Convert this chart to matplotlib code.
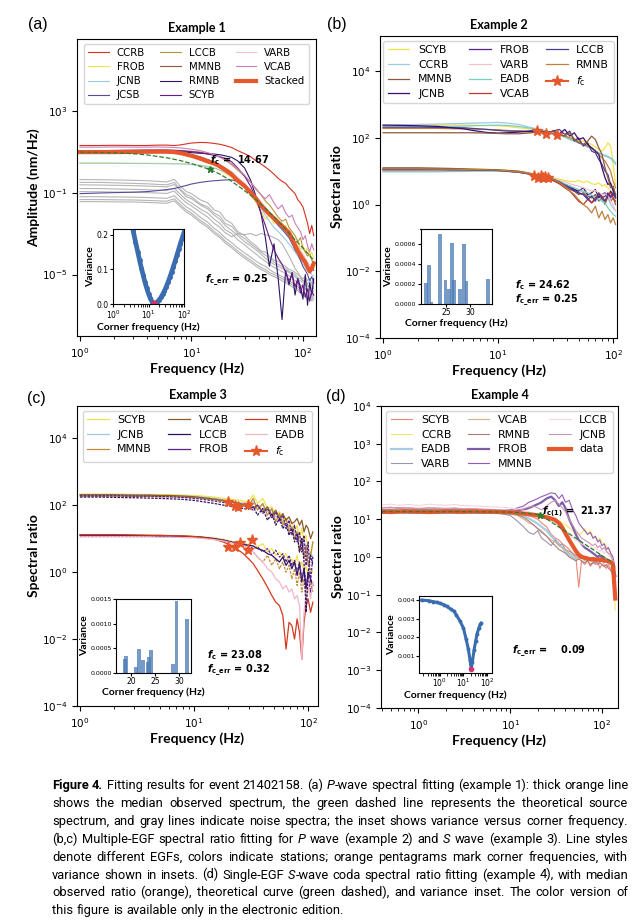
import numpy as np
import matplotlib.pyplot as plt
from matplotlib.ticker import NullLocator, FormatStrFormatter

plt.rcParams['mathtext.fontset'] = 'dejavusans'

W, H = 634, 921
ORANGE = '#e6582b'

# ---------------- (a) P-wave spectra, log10 amplitude ----------------
fa = [1, 1.5, 2, 3, 4, 5, 6, 7, 8, 9, 10, 12, 14, 16, 18, 20, 23, 26, 30, 34,
      38, 42, 46, 50, 55, 60, 65, 70, 75, 80, 85, 90, 95, 100, 105, 110, 115, 120, 125]
a_stacked = [0.98, 0.98, 0.98, 0.99, 1.0, 1.0, 1.0, 0.98, 0.93, 0.86, 0.8, 0.66, 0.52, 0.42, 0.28, 0.12, -0.12, -0.42, -0.68, -1.0,
             -1.3, -1.62, -1.85, -2.05, -2.25, -2.45, -2.62, -2.8, -2.95, -3.25, -3.55, -3.85, -4.05, -4.25, -4.4, -4.65, -4.85, -4.7, -4.45]
a_ccrb = [1.3, 1.3, 1.31, 1.3, 1.3, 1.32, 1.32, 1.3, 1.33, 1.38, 1.42, 1.45, 1.44, 1.4, 1.36, 1.3, 1.2, 1.05, 0.9, 0.75,
          0.55, 0.4, 0.25, 0.1, -0.1, -0.3, -0.45, -0.55, -0.75, -0.9, -1.05, -1.35, -1.5, -1.7, -2.1, -2.5, -3.0, -2.6, -3.1]
a_frob = [0.45, 0.45, 0.45, 0.44, 0.44, 0.43, 0.43, 0.42, 0.41, 0.4, 0.38, 0.34, 0.28, 0.2, 0.1, -0.05, -0.25, -0.45, -0.75, -1.1,
          -1.5, -1.9, -2.3, -2.1, -2.5, -2.4, -2.8, -2.6, -3.0, -3.2, -3.5, -3.3, -3.8, -3.6, -3.9, -3.7, -4.1, -3.9, -4.2]
a_jcnb = [0.43, 0.43, 0.43, 0.42, 0.42, 0.41, 0.41, 0.4, 0.4, 0.39, 0.37, 0.33, 0.27, 0.2, 0.12, 0.0, -0.2, -0.4, -0.7, -1.05,
          -1.4, -1.75, -2.1, -2.4, -2.7, -2.9, -3.1, -3.3, -3.5, -3.7, -3.9, -4.1, -4.3, -4.5, -4.6, -4.8, -4.9, -5.0, -5.1]
a_jcsb = [-1.05, -1.02, -1.0, -0.98, -0.95, -0.9, -0.85, -0.8, -0.72, -0.65, -0.58, -0.5, -0.45, -0.42, -0.4, -0.38, -0.38, -0.45, -0.7, -1.0,
          -1.3, -1.6, -1.85, -2.1, -2.35, -2.6, -2.8, -3.0, -3.2, -3.5, -3.8, -4.0, -4.3, -4.6, -4.8, -5.0, -5.3, -5.1, -5.4]
a_lccb = [1.02, 1.02, 1.03, 1.04, 1.05, 1.06, 1.06, 1.05, 1.05, 1.04, 1.02, 0.98, 0.92, 0.85, 0.75, 0.6, 0.35, 0.1, -0.2, -0.5,
          -0.8, -1.1, -1.4, -1.6, -1.9, -2.2, -2.4, -2.3, -2.7, -2.9, -3.1, -3.4, -3.2, -3.7, -3.9, -4.1, -4.0, -4.3, -4.5]
a_mmnb = [0.95, 0.96, 0.96, 0.97, 0.98, 0.98, 0.98, 0.97, 0.95, 0.9, 0.85, 0.75, 0.62, 0.5, 0.35, 0.2, 0.0, -0.3, -0.6, -0.9,
          -1.2, -1.5, -1.8, -2.0, -2.3, -2.5, -2.7, -2.9, -3.1, -3.3, -3.6, -3.9, -4.1, -4.3, -4.5, -4.7, -4.9, -4.6, -4.8]
a_rmnb = [1.0, 1.0, 1.0, 1.01, 1.02, 1.02, 1.02, 1.01, 1.0, 0.98, 0.95, 0.92, 0.9, 0.88, 0.85, 0.8, 0.72, 0.55, 0.2, -0.4,
          -1.2, -2.0, -3.2, -4.6, -3.5, -5.2, -7.2, -4.8, -5.5, -4.9, -6.0, -5.2, -5.6, -6.2, -5.0, -6.5, -5.4, -6.0, -5.2]
a_scyb = [1.05, 1.05, 1.06, 1.07, 1.08, 1.08, 1.08, 1.07, 1.05, 1.02, 1.0, 0.95, 0.88, 0.82, 0.75, 0.68, 0.5, 0.2, -0.2, -0.7,
          -1.3, -2.0, -2.6, -3.2, -3.8, -4.2, -4.5, -4.9, -5.3, -5.0, -5.6, -5.2, -5.9, -5.5, -6.1, -5.7, -6.3, -5.8, -6.0]
a_varb = [0.9, 0.9, 0.9, 0.91, 0.92, 0.92, 0.92, 0.91, 0.88, 0.85, 0.8, 0.7, 0.58, 0.45, 0.32, 0.18, 0.0, -0.25, -0.55, -0.9,
          -1.2, -1.45, -1.7, -1.95, -2.2, -2.45, -2.65, -2.85, -3.05, -3.3, -3.5, -3.6, -3.8, -4.0, -4.2, -4.4, -4.5, -4.6, -4.7]
a_vcab = [1.22, 1.22, 1.23, 1.22, 1.22, 1.23, 1.22, 1.2, 1.18, 1.15, 1.12, 1.05, 0.95, 0.85, 0.72, 0.6, 0.4, 0.15, -0.15, -0.5,
          -0.85, -1.1, -1.3, -1.1, -1.5, -1.8, -1.6, -2.0, -2.2, -2.1, -2.5, -2.7, -2.9, -3.3, -3.1, -3.6, -3.9, -3.5, -3.8]
a_noise = [
    [-0.36, -0.37, -0.38, -0.4, -0.42, -0.45, -0.48, -0.35, -0.7, -0.95, -1.05, -1.35, -1.5, -1.85, -1.95, -2.3, -2.5, -2.9, -3.1, -3.4,
     -3.6, -3.85, -3.9, -4.1, -4.3, -4.35, -4.5, -4.6, -4.75, -4.8, -4.9, -5.0, -5.1, -5.2, -5.1, -5.3, -5.2, -5.4, -5.3],
    [-0.5, -0.5, -0.52, -0.55, -0.57, -0.6, -0.62, -0.5, -0.85, -1.1, -1.2, -1.55, -1.7, -2.0, -2.15, -2.5, -2.65, -3.0, -3.25, -3.5,
     -3.7, -3.9, -4.05, -4.2, -4.4, -4.5, -4.6, -4.7, -4.85, -4.9, -5.0, -5.15, -5.2, -5.3, -5.25, -5.45, -5.35, -5.5, -5.4],
    [-0.62, -0.63, -0.64, -0.66, -0.68, -0.7, -0.72, -0.6, -0.9, -1.2, -1.3, -1.6, -1.8, -2.1, -2.3, -2.6, -2.85, -3.1, -3.4, -3.6,
     -3.8, -4.0, -4.2, -4.35, -4.5, -4.6, -4.7, -4.8, -4.9, -5.0, -5.1, -5.25, -5.3, -5.4, -5.5, -5.6, -5.5, -5.7, -5.6],
    [-0.8, -0.8, -0.82, -0.84, -0.86, -0.88, -0.9, -0.78, -1.1, -1.35, -1.5, -1.8, -2.0, -2.3, -2.5, -2.8, -3.0, -3.3, -3.55, -3.8,
     -4.0, -4.2, -4.35, -4.5, -4.65, -4.75, -4.85, -4.95, -5.05, -5.15, -5.3, -5.4, -5.5, -5.6, -5.7, -5.8, -5.7, -5.9, -5.8],
    [-0.95, -0.96, -0.97, -0.98, -1.0, -1.02, -1.04, -0.92, -1.25, -1.5, -1.65, -1.95, -2.2, -2.5, -2.7, -2.95, -3.15, -3.0, -3.05, -3.0,
     -3.1, -3.0, -3.05, -3.1, -3.2, -3.3, -3.5, -3.8, -4.1, -4.4, -4.7, -4.9, -5.1, -5.3, -5.4, -5.5, -5.6, -5.5, -5.7],
    [-1.2, -1.2, -1.21, -1.22, -1.24, -1.26, -1.28, -1.15, -1.45, -1.7, -1.85, -2.2, -2.45, -2.75, -2.95, -3.2, -3.45, -3.7, -3.95, -4.15,
     -4.35, -4.5, -4.6, -4.75, -4.9, -5.0, -5.1, -5.2, -5.3, -5.4, -5.5, -5.6, -5.7, -5.8, -5.9, -6.0, -5.9, -6.1, -6.0],
    [-1.34, -1.34, -1.35, -1.36, -1.38, -1.4, -1.42, -1.3, -1.6, -1.85, -2.0, -2.35, -2.6, -2.9, -3.1, -3.35, -3.6, -3.85, -4.1, -4.3,
     -4.5, -4.65, -4.75, -4.9, -5.0, -5.1, -5.2, -5.3, -5.4, -5.5, -5.6, -5.7, -5.8, -5.9, -6.0, -6.1, -6.0, -6.2, -6.1],
    [-1.44, -1.44, -1.45, -1.46, -1.48, -1.5, -1.52, -1.4, -1.7, -1.95, -2.1, -2.45, -2.7, -3.0, -3.2, -3.45, -3.7, -3.95, -4.2, -4.4,
     -4.6, -4.75, -4.85, -5.0, -5.1, -5.2, -5.3, -5.4, -5.5, -5.6, -5.7, -5.8, -5.9, -6.0, -6.1, -6.2, -6.1, -6.3, -6.2],
]
fa_theory = [1, 2, 3, 4, 6, 8, 10, 12, 14.67, 18, 22, 27, 33, 40, 50, 65, 80, 100, 125]
a_theory = [0.98, 0.95, 0.9, 0.84, 0.7, 0.56, 0.42, 0.28, 0.13, -0.1, -0.38, -0.72, -1.08, -1.45, -1.95, -2.6, -3.15, -3.7, -4.3]
a_fc, a_fc_log, a_fc_err = 14.67, 0.13, 0.25
a_inset_f = [3.7, 4.3, 5.0, 5.6, 6.3, 7.1, 7.9, 8.9, 10, 11.2, 12.6, 13.5, 14.67, 16, 17.8, 20, 22.4, 25.1, 28.2, 31.6,
             35.5, 39.8, 44.7, 50.1, 56.2, 63.1, 70.8, 79.4, 89.1, 100]
a_inset_var = [0.212, 0.18, 0.15, 0.127, 0.104, 0.083, 0.064, 0.046, 0.03, 0.017, 0.007, 0.003, 0.001, 0.002, 0.006, 0.012, 0.019, 0.028, 0.038, 0.05,
               0.063, 0.077, 0.092, 0.108, 0.124, 0.141, 0.158, 0.175, 0.191, 0.207]

# ---------------- (b) P-wave multiple-EGF ratios ----------------
fb = [1, 1.5, 2, 3, 4, 5, 6, 8, 10, 12, 15, 18, 21, 24, 27, 30, 34, 38, 42, 46, 50, 55, 60, 65, 70, 75, 80, 85, 90, 95, 100, 105]
b_upper = {
    'SCYB': [2.36, 2.36, 2.37, 2.37, 2.38, 2.38, 2.38, 2.37, 2.36, 2.34, 2.3, 2.27, 2.25, 2.22, 2.2, 2.16, 2.1, 2.05, 2.0, 1.98, 1.95, 1.9, 1.85, 1.8, 1.72, 1.65, 1.6, 1.7, 1.85, 1.75, 1.2, 0.6],
    'CCRB': [2.38, 2.39, 2.4, 2.41, 2.42, 2.43, 2.44, 2.45, 2.46, 2.44, 2.4, 2.33, 2.28, 2.24, 2.2, 2.17, 2.1, 2.02, 1.95, 1.9, 1.85, 1.8, 1.75, 1.7, 1.62, 1.55, 1.5, 1.48, 1.45, 1.4, 1.35, 1.2],
    'EADB': [2.3, 2.31, 2.32, 2.33, 2.34, 2.35, 2.36, 2.37, 2.38, 2.37, 2.34, 2.3, 2.26, 2.22, 2.18, 2.14, 2.08, 2.02, 1.96, 1.9, 1.85, 1.8, 1.72, 1.68, 1.6, 1.55, 1.5, 1.45, 1.42, 1.38, 1.3, 1.25],
    'RMNB': [2.28, 2.28, 2.28, 2.28, 2.27, 2.27, 2.26, 2.25, 2.24, 2.22, 2.2, 2.18, 2.16, 2.14, 2.12, 2.12, 2.08, 2.05, 2.0, 1.95, 1.9, 1.8, 1.75, 1.7, 1.6, 1.5, 1.4, 1.3, 1.15, 1.0, 0.7, 0.5],
    'LCCB': [2.32, 2.32, 2.32, 2.31, 2.3, 2.3, 2.28, 2.25, 2.22, 2.2, 2.2, 2.2, 2.22, 2.2, 2.15, 2.2, 2.25, 2.1, 2.2, 1.9, 2.0, 1.75, 1.85, 1.6, 1.55, 1.35, 1.2, 1.0, 0.9, 0.6, 0.5, 0.2],
    'JCNB': [2.38, 2.37, 2.36, 2.34, 2.3, 2.27, 2.22, 2.16, 2.14, 2.15, 2.17, 2.19, 2.2, 2.18, 2.16, 2.2, 2.12, 2.25, 2.05, 2.15, 1.95, 2.0, 1.8, 1.7, 1.6, 1.5, 1.1, 0.8, 0.6, 0.65, 0.4, 0.3],
    'MMNB': [2.15, 2.15, 2.15, 2.15, 2.15, 2.15, 2.15, 2.14, 2.13, 2.12, 2.12, 2.14, 2.16, 2.18, 2.15, 2.2, 2.1, 2.05, 2.15, 1.95, 1.85, 1.8, 1.9, 2.05, 1.95, 1.7, 1.5, 1.1, 0.8, 0.5, 0.55, 0.3],
}
b_lower = {
    'SCYB': [1.08, 1.08, 1.08, 1.07, 1.07, 1.06, 1.06, 1.05, 1.04, 1.03, 1.0, 0.96, 0.92, 0.88, 0.84, 0.8, 0.76, 0.72, 0.7, 0.68, 0.72, 0.66, 0.7, 0.62, 0.6, 0.65, 0.55, 0.6, 0.5, 0.4, 0.3, 0.2],
    'CCRB': [1.0, 1.0, 1.0, 1.0, 1.01, 1.01, 1.02, 1.02, 1.02, 1.01, 0.99, 0.95, 0.9, 0.85, 0.8, 0.75, 0.68, 0.6, 0.5, 0.45, 0.42, 0.38, 0.3, 0.25, 0.2, 0.3, 0.15, 0.1, 0.2, 0.0, -0.1, -0.2],
    'MMNB': [1.1, 1.1, 1.1, 1.09, 1.08, 1.07, 1.06, 1.05, 1.04, 1.02, 1.0, 0.95, 0.9, 0.85, 0.8, 0.72, 0.65, 0.55, 0.45, 0.4, 0.3, 0.35, 0.25, 0.2, 0.3, 0.1, 0.2, 0.0, 0.25, 0.1, 0.2, 0.0],
    'JCNB': [1.05, 1.05, 1.05, 1.05, 1.05, 1.04, 1.04, 1.03, 1.02, 1.0, 0.98, 0.93, 0.88, 0.84, 0.8, 0.75, 0.68, 0.6, 0.55, 0.45, 0.4, 0.5, 0.3, 0.35, 0.45, 0.2, 0.3, 0.35, 0.2, 0.4, 0.3, 0.25],
    'FROB': [1.06, 1.06, 1.06, 1.05, 1.05, 1.05, 1.04, 1.03, 1.02, 1.0, 0.97, 0.93, 0.88, 0.84, 0.8, 0.74, 0.66, 0.58, 0.5, 0.42, 0.35, 0.3, 0.2, 0.05, 0.15, 0.3, 0.2, 0.25, 0.35, 0.2, 0.3, 0.2],
    'VARB': [1.02, 1.02, 1.02, 1.02, 1.02, 1.02, 1.02, 1.01, 1.0, 0.99, 0.97, 0.93, 0.9, 0.85, 0.82, 0.78, 0.72, 0.68, 0.62, 0.58, 0.55, 0.5, 0.45, 0.4, 0.42, 0.35, 0.3, 0.32, 0.25, 0.1, 0.0, -0.2],
    'EADB': [0.98, 0.98, 0.98, 0.98, 0.99, 0.99, 1.0, 1.0, 1.0, 0.99, 0.97, 0.94, 0.9, 0.86, 0.82, 0.77, 0.7, 0.62, 0.55, 0.5, 0.45, 0.4, 0.35, 0.28, 0.2, 0.15, 0.1, 0.05, -0.1, -0.2, -0.3, -0.35],
    'VCAB': [1.04, 1.04, 1.04, 1.04, 1.04, 1.04, 1.03, 1.03, 1.02, 1.0, 0.97, 0.92, 0.87, 0.82, 0.78, 0.72, 0.62, 0.5, 0.4, 0.25, 0.1, 0.0, 0.15, 0.05, 0.2, 0.3, 0.25, 0.1, 0.3, 0.35, 0.2, 0.1],
    'LCCB': [1.05, 1.05, 1.05, 1.05, 1.04, 1.04, 1.04, 1.03, 1.02, 1.0, 0.97, 0.93, 0.89, 0.85, 0.81, 0.76, 0.68, 0.58, 0.5, 0.4, 0.35, 0.3, 0.15, 0.25, 0.1, 0.35, 0.2, 0.1, 0.3, 0.25, 0.35, 0.2],
    'RMNB': [1.07, 1.07, 1.07, 1.06, 1.06, 1.05, 1.05, 1.04, 1.03, 1.01, 0.98, 0.94, 0.9, 0.86, 0.82, 0.76, 0.66, 0.55, 0.4, 0.3, 0.15, 0.0, -0.1, -0.25, -0.05, -0.4, -0.2, -0.45, -0.3, -0.55, -0.4, -0.6],
}
b_star_f = [21.8, 26.1, 32.6, 20.5, 22.0, 23.5, 24.5, 25.5, 27.0]
b_star_log = [2.21, 2.12, 2.09, 0.84, 0.80, 0.86, 0.78, 0.82, 0.80]
b_fc, b_fc_err = 24.62, 0.25
b_hist_fc = [20.8, 21.5, 22.0, 23.7, 24.9, 25.6, 26.3, 26.6, 28.0, 28.7, 29.3, 33.8]
b_hist_var = [0.00021, 0.00039, 0.00002, 0.0007, 0.00024, 0.00015, 0.00061, 0.00024, 0.00015, 0.0006, 0.00023, 0.00025]

# ---------------- (c) S-wave multiple-EGF ratios ----------------
fcg = [1, 1.5, 2, 3, 4, 5, 6, 8, 10, 12, 15, 18, 21, 24, 27, 30, 33, 36, 40, 44, 48, 52, 56, 60, 64, 68, 72, 76, 80, 84, 88, 92, 96, 100, 105, 110]
c_upper = {
    'SCYB': [2.33, 2.33, 2.33, 2.32, 2.32, 2.31, 2.31, 2.3, 2.29, 2.27, 2.24, 2.2, 2.18, 2.15, 2.12, 2.1, 2.3, 2.05, 2.2, 1.9, 1.95, 1.7, 1.8, 1.55, 1.6, 1.35, 1.5, 1.2, 1.4, 1.0, 1.3, 0.9, 1.1, 0.6, 0.4, 0.9],
    'JCNB': [2.3, 2.3, 2.3, 2.29, 2.29, 2.28, 2.28, 2.27, 2.26, 2.24, 2.2, 2.16, 2.12, 2.08, 2.06, 2.04, 2.1, 1.95, 2.0, 1.8, 1.85, 1.65, 1.7, 1.5, 1.45, 1.3, 1.35, 1.15, 1.2, 0.9, 1.0, 0.7, 0.8, 0.5, 0.6, 0.4],
    'MMNB': [2.27, 2.27, 2.27, 2.26, 2.26, 2.25, 2.25, 2.24, 2.22, 2.2, 2.16, 2.12, 2.08, 2.05, 2.02, 1.98, 2.2, 1.85, 2.05, 1.7, 1.9, 1.5, 1.75, 1.4, 1.6, 1.2, 1.35, 1.0, 1.2, 0.6, 1.0, 0.4, 0.8, 0.2, 0.5, 0.9],
    'VCAB': [2.31, 2.31, 2.31, 2.3, 2.3, 2.29, 2.29, 2.27, 2.25, 2.22, 2.18, 2.14, 2.1, 2.06, 2.02, 1.98, 1.92, 2.0, 1.8, 1.95, 1.7, 1.85, 1.6, 1.75, 1.55, 1.65, 1.45, 1.5, 1.6, 1.4, 1.55, 1.2, 1.4, 1.3, 1.0, 1.2],
    'LCCB': [2.24, 2.24, 2.23, 2.22, 2.21, 2.2, 2.19, 2.17, 2.14, 2.1, 2.05, 2.0, 1.96, 1.92, 1.9, 1.88, 1.95, 1.7, 1.9, 1.55, 1.75, 1.4, 1.6, 1.3, 1.45, 1.1, 1.3, 0.9, 1.15, 0.6, 1.0, 0.3, -1.2, 0.0, 0.5, 0.2],
    'FROB': [2.28, 2.28, 2.28, 2.27, 2.27, 2.26, 2.25, 2.23, 2.2, 2.17, 2.12, 2.08, 2.04, 2.0, 1.97, 1.95, 1.85, 2.0, 1.75, 1.9, 1.6, 1.8, 1.5, 1.7, 1.3, 1.55, 1.1, 1.4, 0.9, 1.2, 0.6, 1.1, 0.2, 0.9, -0.3, 0.5],
}
c_upper_ls = {'SCYB': '-', 'JCNB': '-', 'MMNB': '-', 'VCAB': '-', 'LCCB': (0, (2, 1)), 'FROB': (0, (2, 1))}
c_lower = {
    'SCYB': [1.1, 1.1, 1.1, 1.1, 1.1, 1.09, 1.09, 1.08, 1.07, 1.05, 1.02, 0.98, 0.92, 0.88, 0.85, 0.82, 0.9, 0.75, 0.85, 0.6, 0.7, 0.5, 0.6, 0.45, 0.55, 0.3, 0.4, 0.2, 0.5, 0.1, 0.3, 0.0, 0.2, -0.2, 0.1, 0.0],
    'MMNB': [1.08, 1.08, 1.08, 1.08, 1.07, 1.07, 1.06, 1.05, 1.04, 1.02, 0.98, 0.94, 0.88, 0.82, 0.78, 0.7, 0.6, 0.45, 0.3, 0.5, 0.2, 0.4, 0.1, 0.3, 0.0, 0.2, -0.2, 0.1, -0.4, 0.0, -0.6, -0.2, -0.8, -0.5, -0.3, -0.6],
    'LCCB': [1.1, 1.1, 1.1, 1.09, 1.09, 1.08, 1.08, 1.07, 1.06, 1.04, 1.0, 0.95, 0.9, 0.85, 0.82, 0.8, 0.78, 0.7, 0.65, 0.55, 0.5, 0.4, 0.3, 0.45, 0.2, 0.35, 0.1, 0.3, -0.1, 0.25, -0.3, 0.1, -0.5, 0.0, -0.2, -0.4],
    'FROB': [1.08, 1.08, 1.08, 1.08, 1.07, 1.07, 1.07, 1.06, 1.05, 1.03, 1.0, 0.96, 0.91, 0.87, 0.84, 0.8, 0.7, 0.75, 0.6, 0.7, 0.5, 0.65, 0.45, 0.55, 0.3, 0.5, 0.2, 0.35, 0.0, 0.3, -0.2, 0.1, -0.4, -0.1, -0.6, -0.3],
    'RMNB': [1.12, 1.12, 1.12, 1.11, 1.1, 1.1, 1.09, 1.08, 1.06, 1.03, 0.98, 0.9, 0.8, 0.68, 0.55, 0.4, 0.25, 0.05, -0.2, -0.45, -0.7, -0.9, -1.0, -1.3, -2.3, -1.5, -1.6, -2.0, -1.4, -1.8, -2.6, -1.5, -1.0, -0.8, -1.2, -0.9],
    'EADB': [1.05, 1.05, 1.05, 1.05, 1.05, 1.04, 1.04, 1.03, 1.02, 1.0, 0.97, 0.93, 0.88, 0.83, 0.78, 0.72, 0.6, 0.45, 0.3, 0.1, 0.0, -0.2, -0.3, -0.5, -0.4, -0.6, -0.5, -0.8, -0.7, -1.0, -2.6, -1.2, -0.6, -0.4, -0.8, -0.3],
}
c_lower_ls = {'SCYB': '-', 'MMNB': (0, (2, 1)), 'LCCB': '-', 'FROB': (0, (2, 1)), 'RMNB': '-', 'EADB': '-'}
c_star_f = [19.9, 22.9, 24.3, 29.7, 20.0, 22.9, 25.3, 29.7, 32.3]
c_star_log = [2.09, 1.97, 1.94, 2.0, 0.75, 0.75, 0.87, 0.66, 0.96]
c_fc, c_fc_err = 23.08, 0.32
c_hist_fc = [18.75, 19.05, 20.95, 21.7, 22.55, 23.4, 23.7, 24.2, 28.65, 29.4, 31.65]
c_hist_var = [0.00027, 0.00033, 0.00012, 0.00048, 0.00026, 0.00021, 0.00031, 0.00046, 0.00017, 0.00147, 0.00109]

# ---------------- (d) single-EGF S-coda ratios ----------------
fd = [0.4, 0.5, 0.6, 0.8, 1, 1.3, 1.6, 2, 2.5, 3, 4, 5, 6, 8, 10, 12, 14, 16, 18, 20, 22, 25, 28, 31, 34, 37, 40, 44, 48, 52,
      56, 60, 65, 70, 75, 80, 85, 90, 95, 100, 106, 112, 118, 125, 132, 140]
d_data = [1.2, 1.19, 1.2, 1.21, 1.2, 1.19, 1.2, 1.21, 1.2, 1.2, 1.21, 1.2, 1.2, 1.19, 1.18, 1.17, 1.15, 1.13, 1.12, 1.1, 1.08, 1.05, 1.02, 0.98, 0.9, 0.78, 0.63, 0.45, 0.3, 0.16,
          0.06, 0.0, -0.02, -0.04, -0.06, -0.05, -0.07, -0.06, -0.08, -0.07, -0.09, -0.1, -0.11, -0.14, -0.2, -1.1]
d_stations = {
    'SCYB': [1.3, 1.32, 1.28, 1.3, 1.27, 1.3, 1.28, 1.26, 1.28, 1.25, 1.27, 1.24, 1.25, 1.22, 1.2, 1.18, 1.15, 1.1, 1.05, 1.0, 0.9, 0.8, 0.6, 0.5, 0.45, 0.35, 0.3, 0.2, 0.1, 0.0,
             -0.8, -0.1, -0.2, -0.1, -0.25, -0.15, -0.2, -0.1, -0.3, -0.2, -0.25, -0.3, -0.2, -0.35, -0.5, -0.6],
    'CCRB': [1.2, 1.21, 1.2, 1.22, 1.2, 1.21, 1.2, 1.2, 1.21, 1.2, 1.2, 1.2, 1.2, 1.19, 1.18, 1.18, 1.17, 1.16, 1.15, 1.15, 1.12, 1.1, 1.05, 1.0, 0.95, 0.9, 0.85, 0.78, 0.7, 0.65,
             0.6, 0.62, 0.75, 0.6, 0.7, 0.5, 0.55, 0.45, 0.5, 0.4, 0.35, 0.3, 0.2, 0.1, -0.3, -1.4],
    'EADB': [1.18, 1.19, 1.2, 1.18, 1.19, 1.2, 1.18, 1.19, 1.18, 1.19, 1.18, 1.18, 1.17, 1.16, 1.15, 1.12, 1.08, 1.02, 0.95, 0.88, 0.8, 0.7, 0.55, 0.45, 0.35, 0.25, 0.15, 0.05, 0.0, -0.05,
             0.0, 0.05, -0.05, -0.1, -0.05, -0.1, -0.05, -0.1, 0.0, -0.05, -0.1, -0.05, -0.1, -0.15, -0.2, -0.5],
    'VARB': [1.25, 1.26, 1.24, 1.27, 1.25, 1.26, 1.24, 1.25, 1.26, 1.24, 1.23, 1.22, 1.2, 1.15, 1.1, 0.95, 0.8, 0.65, 0.6, 0.7, 0.5, 0.4, 0.3, 0.45, 0.3, 0.35, 0.2, 0.15, 0.1, 0.05,
             0.0, 0.05, -0.05, -0.1, -0.05, -0.1, -0.15, -0.1, -0.05, -0.1, -0.15, -0.1, -0.2, -0.15, -0.25, -0.4],
    'VCAB': [1.22, 1.22, 1.23, 1.22, 1.21, 1.22, 1.21, 1.22, 1.21, 1.2, 1.2, 1.2, 1.19, 1.18, 1.15, 1.1, 1.0, 0.9, 0.85, 0.75, 0.7, 0.55, 0.45, 0.4, 0.3, 0.25, 0.2, 0.1, 0.05, 0.0,
             -0.05, 0.0, -0.1, -0.05, -0.1, -0.15, -0.1, -0.2, -0.15, -0.1, -0.2, -0.25, -0.2, -0.3, -0.4, -0.6],
    'RMNB': [1.24, 1.25, 1.24, 1.23, 1.24, 1.25, 1.24, 1.23, 1.24, 1.23, 1.22, 1.22, 1.21, 1.2, 1.18, 1.12, 1.05, 0.95, 0.85, 0.75, 0.65, 0.55, 0.4, 0.3, 0.2, 0.15, 0.1, 0.0, -0.05, -0.1,
             -0.05, -0.1, -0.15, -0.1, -0.2, -0.15, -0.1, -0.2, -0.15, -0.2, -0.25, -0.2, -0.3, -0.35, -0.45, -0.7],
    'FROB': [1.18, 1.18, 1.19, 1.18, 1.18, 1.19, 1.18, 1.18, 1.19, 1.18, 1.18, 1.18, 1.18, 1.18, 1.2, 1.22, 1.25, 1.3, 1.35, 1.4, 1.45, 1.55, 1.6, 1.5, 1.35, 1.45, 1.3, 1.0, 0.8, 0.6,
             0.45, 0.35, 0.25, 0.2, 0.15, 0.1, 0.05, 0.0, 0.05, 0.0, -0.05, -0.1, -0.1, -0.15, -0.2, -0.5],
    'MMNB': [1.2, 1.2, 1.2, 1.21, 1.2, 1.2, 1.21, 1.2, 1.2, 1.2, 1.2, 1.21, 1.2, 1.22, 1.25, 1.3, 1.35, 1.45, 1.5, 1.55, 1.6, 1.65, 1.7, 1.68, 1.55, 1.65, 1.45, 1.5, 1.25, 1.1,
             0.9, 0.8, 0.7, 0.6, 0.65, 0.5, 0.55, 0.4, 0.45, 0.3, 0.35, 0.2, 0.25, 0.1, 0.0, -0.3],
    'LCCB': [1.38, 1.4, 1.37, 1.39, 1.36, 1.4, 1.38, 1.37, 1.39, 1.36, 1.35, 1.34, 1.33, 1.32, 1.3, 1.27, 1.24, 1.2, 1.15, 1.1, 1.05, 1.0, 0.95, 0.9, 0.8, 0.75, 0.7, 0.6, 0.5, 0.45,
             0.4, 0.35, 0.3, 0.25, 0.3, 0.2, 0.25, 0.2, 0.15, 0.2, 0.1, 0.15, 0.05, 0.0, -0.1, -0.3],
    'JCNB': [1.3, 1.3, 1.31, 1.3, 1.29, 1.3, 1.3, 1.29, 1.3, 1.28, 1.28, 1.27, 1.26, 1.25, 1.24, 1.25, 1.28, 1.32, 1.35, 1.3, 1.25, 1.35, 1.45, 1.5, 1.4, 1.3, 1.2, 1.0, 0.85, 0.7,
             0.6, 0.5, 0.45, 0.4, 0.35, 0.3, 0.35, 0.25, 0.3, 0.2, 0.25, 0.15, 0.1, 0.05, -0.1, -0.4],
}
fd_theory = [0.4, 1, 3, 10, 15, 21.37, 30, 45, 70, 100, 130]
d_theory = [1.2, 1.2, 1.2, 1.19, 1.16, 1.12, 0.88, 0.6, 0.29, 0.04, -0.14]
d_fc, d_fc_log, d_fc_err = 21.37, 1.12, 0.09
d_inset_f = [0.17, 0.34, 0.5, 0.74, 1.0, 1.5, 2, 3, 4, 5, 7, 10, 13, 16, 19, 21.37, 24, 28, 33, 38, 45, 52, 56]
d_inset_var = [0.004, 0.00397, 0.00392, 0.00388, 0.00383, 0.00375, 0.00366, 0.0035, 0.0034, 0.0032, 0.0029, 0.0025, 0.0019, 0.0014, 0.0008, 0.0003,
               0.0007, 0.0013, 0.0018, 0.0022, 0.0025, 0.0027, 0.00276]

COLORS = {
    'CCRB': '#d7301f', 'FROB': '#f3e34b', 'JCNB': '#9ecae1', 'JCSB': '#5a4b9a', 'LCCB': '#b8963c',
    'MMNB': '#8c5a3c', 'RMNB': '#2d1466', 'SCYB': '#6b1a8a', 'VARB': '#f3c3c8', 'VCAB': '#c97fb9',
}
COL_B = {'SCYB': '#f3e34b', 'CCRB': '#9ecae1', 'MMNB': '#8c5a3c', 'JCNB': '#3b0f70', 'FROB': '#5b1f8a',
         'VARB': '#f4c2c8', 'EADB': '#7fcdc0', 'VCAB': '#c0392b', 'LCCB': '#4b3f8f', 'RMNB': '#c08040'}
COL_C = {'SCYB': '#f3e34b', 'JCNB': '#9ecae1', 'MMNB': '#c28a3a', 'VCAB': '#8b5a2b', 'LCCB': '#2c115f',
         'FROB': '#5b1f8a', 'RMNB': '#d03a1e', 'EADB': '#f2b8c6'}
COL_D = {'SCYB': '#e8877a', 'CCRB': '#f5e663', 'EADB': '#a6cee3', 'VARB': '#9e94b0', 'VCAB': '#d2b48c',
         'RMNB': '#b07a7a', 'FROB': '#7b5ea7', 'MMNB': '#9b59b6', 'LCCB': '#f6d5dc', 'JCNB': '#c994b2'}

LABEL_FONT = dict(family=['Lato', 'DejaVu Sans'], fontweight='bold')
fig = plt.figure(figsize=(W / 100, H / 100), dpi=100)


def box(x0, y0, x1, y1):
    return fig.add_axes([x0 / W, 1 - y1 / H, (x1 - x0) / W, (y1 - y0) / H])


def curve(ax, f, logv, **kw):
    return ax.plot(f, 10.0 ** np.asarray(logv), **kw)[0]


def style_main(ax, title, ylabel, yticks):
    ax.set_xscale('log')
    ax.set_yscale('log')
    ax.set_yticks(yticks)
    ax.yaxis.set_minor_locator(NullLocator())
    ax.tick_params(labelsize=7.5)
    ax.set_title(title, fontsize=9, pad=5, **LABEL_FONT)
    ax.set_xlabel('Frequency (Hz)', fontsize=10, labelpad=2, **LABEL_FONT)
    ax.set_ylabel(ylabel, fontsize=10, labelpad=1, **LABEL_FONT)


def legend(ax, handles, labels=None, size=7.8):
    if labels is None:
        labels = [h.get_label() for h in handles]
    ax.legend(handles, labels, loc='upper center', ncol=3, fontsize=size, handlelength=2.0,
              columnspacing=1.5, borderaxespad=0.45, labelspacing=0.42)


def style_inset(ax):
    ax.set_xlabel('Corner frequency (Hz)', fontsize=7.5, labelpad=1, **LABEL_FONT)
    ax.set_ylabel('Variance', fontsize=7.5, labelpad=1, **LABEL_FONT)
    ax.tick_params(axis='x', labelsize=5.5, pad=1, length=2)
    ax.tick_params(axis='y', labelsize=4.5, pad=1, length=2)


FC = r'$\mathbfit{f}_{\mathbf{c}}$'
FCERR = r'$\mathbfit{f}_{\mathbf{c\_err}}$'

# ---------- (a) ----------
ax = box(77, 39, 316, 336)
for nl in a_noise:
    curve(ax, fa, nl, color='#a8a8a8', lw=0.8, alpha=0.85)
hand = []
for name, vals in [('CCRB', a_ccrb), ('FROB', a_frob), ('JCNB', a_jcnb), ('JCSB', a_jcsb),
                   ('LCCB', a_lccb), ('MMNB', a_mmnb), ('RMNB', a_rmnb), ('SCYB', a_scyb),
                   ('VARB', a_varb), ('VCAB', a_vcab)]:
    hand.append(curve(ax, fa, vals, color=COLORS[name], lw=0.8, label=name))
hand.append(curve(ax, fa, a_stacked, color=ORANGE, lw=3, label='Stacked'))
curve(ax, fa_theory, a_theory, color='#2e7d32', lw=0.9, ls='--')
curve(ax, [a_fc], [a_fc_log], color='#2e7d32', marker='*', ms=5, ls='none')
ax.set_xlim(0.94, 131)
ax.set_ylim(1e-8, 10 ** 6.5)
style_main(ax, 'Example 1', 'Amplitude (nm/Hz)', [1e-5, 1e-1, 1e3])
legend(ax, hand, size=7.3)
ax.text(a_fc, 10 ** 0.57, FC + ' =  14.67', fontsize=7, fontweight='bold', va='center')
ax.text(13.2, 10 ** -5.26, FCERR + ' = 0.25', fontsize=7, fontweight='bold', va='center')

ins = box(113, 229, 184, 304)
ins.plot(a_inset_f, a_inset_var, color='#3a6db0', lw=3.4, marker='o', ms=2.5)
ins.plot([a_fc], [0.002], 'o', color='#d6336c', ms=3.5)
ins.set_xscale('log')
ins.set_xlim(1, 100)
ins.set_ylim(0, 0.217)
ins.set_yticks([0.0, 0.1, 0.2])
style_inset(ins)
ins.tick_params(axis='y', labelsize=5.5)

# ---------- (b) ----------
ax = box(380, 36, 617, 338)
hb = {}
for name, vals in b_lower.items():
    hb[name] = curve(ax, fb, vals, color=COL_B[name], lw=0.9, label=name)
for name, vals in b_upper.items():
    curve(ax, fb, vals, color=COL_B[name], lw=0.9)
for k, (f, v) in enumerate(zip(b_star_f, b_star_log)):
    h = curve(ax, [f], [v], color=ORANGE, marker='*', ms=8, ls='-', label=r'$f_{\rm c}$')
    if k == 0:
        hb['fc'] = h
ax.set_xlim(0.94, 108)
ax.set_ylim(1e-4, 10 ** 5.05)
style_main(ax, 'Example 2', 'Spectral ratio', [1e-4, 1e-2, 1, 1e2, 1e4])
legend(ax, [hb[n] for n in ['SCYB', 'CCRB', 'MMNB', 'JCNB', 'FROB', 'VARB', 'EADB', 'VCAB', 'LCCB', 'RMNB', 'fc']])
ax.text(0.57, 0.175, FC + ' = 24.62', transform=ax.transAxes, fontsize=7, fontweight='bold', va='center')
ax.text(0.57, 0.125, FCERR + ' = 0.25', transform=ax.transAxes, fontsize=7, fontweight='bold', va='center')

ins = box(420.5, 229.5, 492, 304)
ins.bar(b_hist_fc, b_hist_var, width=0.8, color='#4a7ab5', alpha=0.75)
ins.set_xlim(19.7, 34.6)
ins.set_ylim(0, 0.00074)
ins.set_xticks([25, 30])
ins.set_yticks([0, 0.0002, 0.0004, 0.0006])
ins.yaxis.set_major_formatter(FormatStrFormatter('%.4f'))
style_inset(ins)

# ---------- (c) ----------
ax = box(77, 406, 318, 706)
for name, vals in c_lower.items():
    curve(ax, fcg, vals, color=COL_C[name], lw=0.9, ls=c_lower_ls[name])
for name, vals in c_upper.items():
    curve(ax, fcg, vals, color=COL_C[name], lw=0.9, ls=c_upper_ls[name])
for f, v in zip(c_star_f, c_star_log):
    curve(ax, [f], [v], color=ORANGE, marker='*', ms=8, ls='-')
ax.set_xlim(0.94, 122)
ax.set_ylim(1e-4, 10 ** 4.96)
style_main(ax, 'Example 3', 'Spectral ratio', [1e-4, 1e-2, 1, 1e2, 1e4])
order_c = ['SCYB', 'JCNB', 'MMNB', 'VCAB', 'LCCB', 'FROB', 'RMNB', 'EADB']
proxies = [plt.Line2D([], [], color=COL_C[n], lw=0.9) for n in order_c]
proxies.append(plt.Line2D([], [], color=ORANGE, marker='*', ms=8))
legend(ax, proxies, order_c + [r'$f_{\rm c}$'])
ax.text(0.54, 0.17, FC + ' = 23.08', transform=ax.transAxes, fontsize=7, fontweight='bold', va='center')
ax.text(0.54, 0.12, FCERR + ' = 0.32', transform=ax.transAxes, fontsize=7, fontweight='bold', va='center')

ins = box(116, 598.5, 191, 672.5)
ins.bar(c_hist_fc, c_hist_var, width=0.8, color='#4a7ab5', alpha=0.75)
ins.set_xlim(16.9, 32.4)
ins.set_ylim(0, 0.00152)
ins.set_xticks([20, 25, 30])
ins.set_yticks([0, 0.0005, 0.001, 0.0015])
ins.yaxis.set_major_formatter(FormatStrFormatter('%.4f'))
style_inset(ins)

# ---------- (d) ----------
ax = box(381, 406, 618, 708)
hd = {}
for name, vals in d_stations.items():
    lw = 1.6 if name in ('EADB', 'FROB') else 0.8
    hd[name] = curve(ax, fd, vals, color=COL_D[name], lw=lw, label=name)
hd['data'] = curve(ax, fd, d_data, color=ORANGE, lw=3, label='data')
curve(ax, fd_theory, d_theory, color='#2e7d32', lw=0.9, ls='--')
curve(ax, [d_fc], [d_fc_log], color='#2e7d32', marker='*', ms=5, ls='none')
ax.set_xlim(0.39, 150)
ax.set_ylim(1e-4, 1e4)
style_main(ax, 'Example 4', 'Spectral ratio', [10.0 ** k for k in range(-4, 5)])
legend(ax, [hd[n] for n in ['SCYB', 'CCRB', 'EADB', 'VARB', 'VCAB', 'RMNB', 'FROB', 'MMNB', 'LCCB', 'JCNB', 'data']])
ax.text(d_fc * 1.03, 10 ** 1.21, r'$\mathbfit{f}_{\mathbf{c(1)}}$' + ' =  21.37', fontsize=7, fontweight='bold', va='center')
ax.text(10.5, 10 ** -2.5, FCERR + ' =    0.09', fontsize=7, fontweight='bold', va='center')

ins = box(419, 596, 492, 672.5)
ins.plot(d_inset_f, d_inset_var, color='#3a6db0', lw=2.2, marker='o', ms=1.8, ls='-')
ins.plot([d_fc], [0.00032], 'o', color='#d6336c', ms=3)
ins.set_xscale('log')
ins.set_xlim(0.13, 163)
ins.set_ylim(0.00012, 0.00422)
ins.set_yticks([0.001, 0.002, 0.003, 0.004])
ins.yaxis.set_major_formatter(FormatStrFormatter('%.3f'))
style_inset(ins)

# panel letters
for lab, x, y in [('(a)', 28, 25), ('(b)', 327, 25), ('(c)', 27, 398), ('(d)', 326, 397)]:
    fig.text(x / W, 1 - y / H, lab, fontsize=11.5, family='Liberation Sans', va='center')

# ---------- caption, justified ----------
CAPTION = [
    "#Figure #4. Fitting results for event 21402158. (a) _P_-wave spectral fitting (example 1): thick orange line",
    "shows the median observed spectrum, the green dashed line represents the theoretical source",
    "spectrum, and gray lines indicate noise spectra; the inset shows variance versus corner frequency.",
    "(b,c) Multiple-EGF spectral ratio fitting for _P_ wave (example 2) and _S_ wave (example 3). Line styles",
    "denote different EGFs, colors indicate stations; orange pentagrams mark corner frequencies, with",
    "variance shown in insets. (d) Single-EGF _S_-wave coda spectral ratio fitting (example 4), with median",
    "observed ratio (orange), theoretical curve (green dashed), and variance inset. The color version of",
    "this figure is available only in the electronic edition.",
]
CAP_FONT = ['Roboto', 'DejaVu Sans']
renderer = fig.canvas.get_renderer()


def parse(word):
    if word.startswith('#'):
        return [(word[1:], 'b')]
    return [(p, 'i' if k % 2 else 'n') for k, p in enumerate(word.split('_')) if p]


def seg_text(x, y, s, st, size):
    return fig.text(x / W, 1 - y / H, s, fontsize=size, family=CAP_FONT, va='baseline',
                    fontweight='bold' if st == 'b' else 'normal',
                    fontstyle='italic' if st == 'i' else 'normal')


def seg_w(s, st, size):
    t = seg_text(0, 0, s, st, size)
    w = t.get_window_extent(renderer).width
    t.remove()
    return w


x0, x1 = 52, 628
base = 10
nat = []
for line in CAPTION:
    words = [parse(w) for w in line.split(' ')]
    ww = sum(seg_w(s, st, base) for wd in words for s, st in wd)
    nat.append(ww + (len(words) - 1) * base * 0.25 * 100 / 72)
size = base * (x1 - x0) / max(nat) * 0.995
for i, line in enumerate(CAPTION):
    y = 789 + i * 17.9
    words = [parse(w) for w in line.split(' ')]
    widths = [[seg_w(s, st, size) for s, st in wd] for wd in words]
    total = sum(sum(w) for w in widths)
    if i < len(CAPTION) - 1:
        gap = (x1 - x0 - total) / (len(words) - 1)
    else:
        gap = size * 0.25 * 100 / 72
    x = x0
    for wd, wl in zip(words, widths):
        for (s, st), w in zip(wd, wl):
            seg_text(x, y, s, st, size)
            x += w
        x += gap

fig.savefig('out.png', dpi=100)
